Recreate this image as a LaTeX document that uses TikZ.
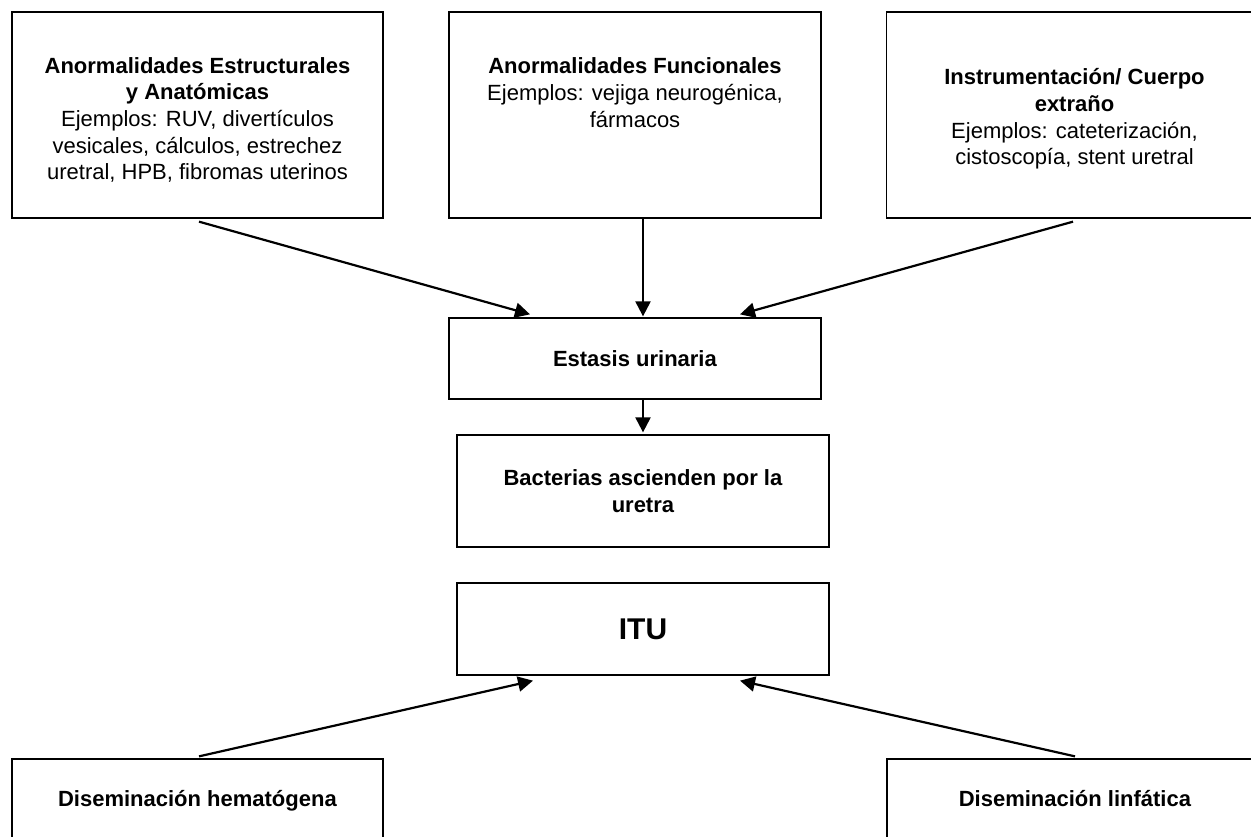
\documentclass[tikz,border=0pt]{standalone}
\usepackage{fontspec}
\setmainfont{Liberation Sans}
\usetikzlibrary{arrows.meta}

\begin{document}
\begin{tikzpicture}[x=0.5pt, y=-0.5pt,
  box/.style={draw, line width=0.65pt, align=center, inner sep=0pt, font=\fontsize{11}{13.35}\selectfont},
  arr/.style={-{Triangle[length=7.5pt,width=7.5pt]}, line width=1.1pt}]
\useasboundingbox (0,0) rectangle (1251,836);
\node[box, minimum width=185.5pt, minimum height=103pt] (estruct) at (197.5,115)
  {\rule{0pt}{13pt}\textbf{Anormalidades Estructurales}\\ \textbf{y Anatómicas}\\ Ejemplos: RUV, divertículos\\ vesicales, cálculos, estrechez\\ uretral, HPB, fibromas uterinos};
\node[box, minimum width=186pt, minimum height=103pt] (funcion) at (635,115)
  {\rule{0pt}{16pt}\textbf{Anormalidades Funcionales}\\ Ejemplos: vejiga neurogénica,\\ fármacos\\ \strut\\ \strut};
\node[box, minimum width=188pt, minimum height=103pt] (instrum) at (1074.5,115)
  {\rule{0pt}{12pt}\textbf{Instrumentación/ Cuerpo}\\ \textbf{extraño}\\ Ejemplos: cateterización,\\ cistoscopía, stent uretral};
\node[box, minimum width=186pt, minimum height=40.5pt] (estasis) at (635,358.5)
  {\textbf{Estasis urinaria}};
\node[box, minimum width=186pt, minimum height=56pt] (bacterias) at (643,491)
  {\textbf{Bacterias ascienden por la}\\ \textbf{uretra}};
\node[box, minimum width=186pt, minimum height=46pt, font=\fontsize{15}{18}\selectfont\bfseries] (itu) at (643,629)
  {ITU};
\node[box, minimum width=185.5pt, minimum height=42pt] (hemato) at (197.5,801)
  {\strut\textbf{Diseminación hematógena}};
\node[box, minimum width=188pt, minimum height=42pt] (linfa) at (1075,801)
  {\strut\textbf{Diseminación linfática}};

\draw[arr] ([xshift=0.75pt,yshift=-1.5pt]estruct.south) -- ([xshift=-52.5pt,yshift=1.5pt]estasis.north);
\draw[arr] ([xshift=4pt]funcion.south) -- ([xshift=4pt,yshift=0.5pt]estasis.north);
\draw[arr] ([xshift=-0.75pt,yshift=-1.5pt]instrum.south) -- ([xshift=52.5pt,yshift=1.5pt]estasis.north);
\draw[arr] ([xshift=4pt]estasis.south) -- ([yshift=1pt]bacterias.north);
\draw[arr] ([xshift=0.75pt,yshift=1pt]hemato.north) -- ([xshift=-55pt,yshift=-2.5pt]itu.south);
\draw[arr] ([xshift=0pt,yshift=1pt]linfa.north) -- ([xshift=48.5pt,yshift=-2.5pt]itu.south);
\end{tikzpicture}
\end{document}
